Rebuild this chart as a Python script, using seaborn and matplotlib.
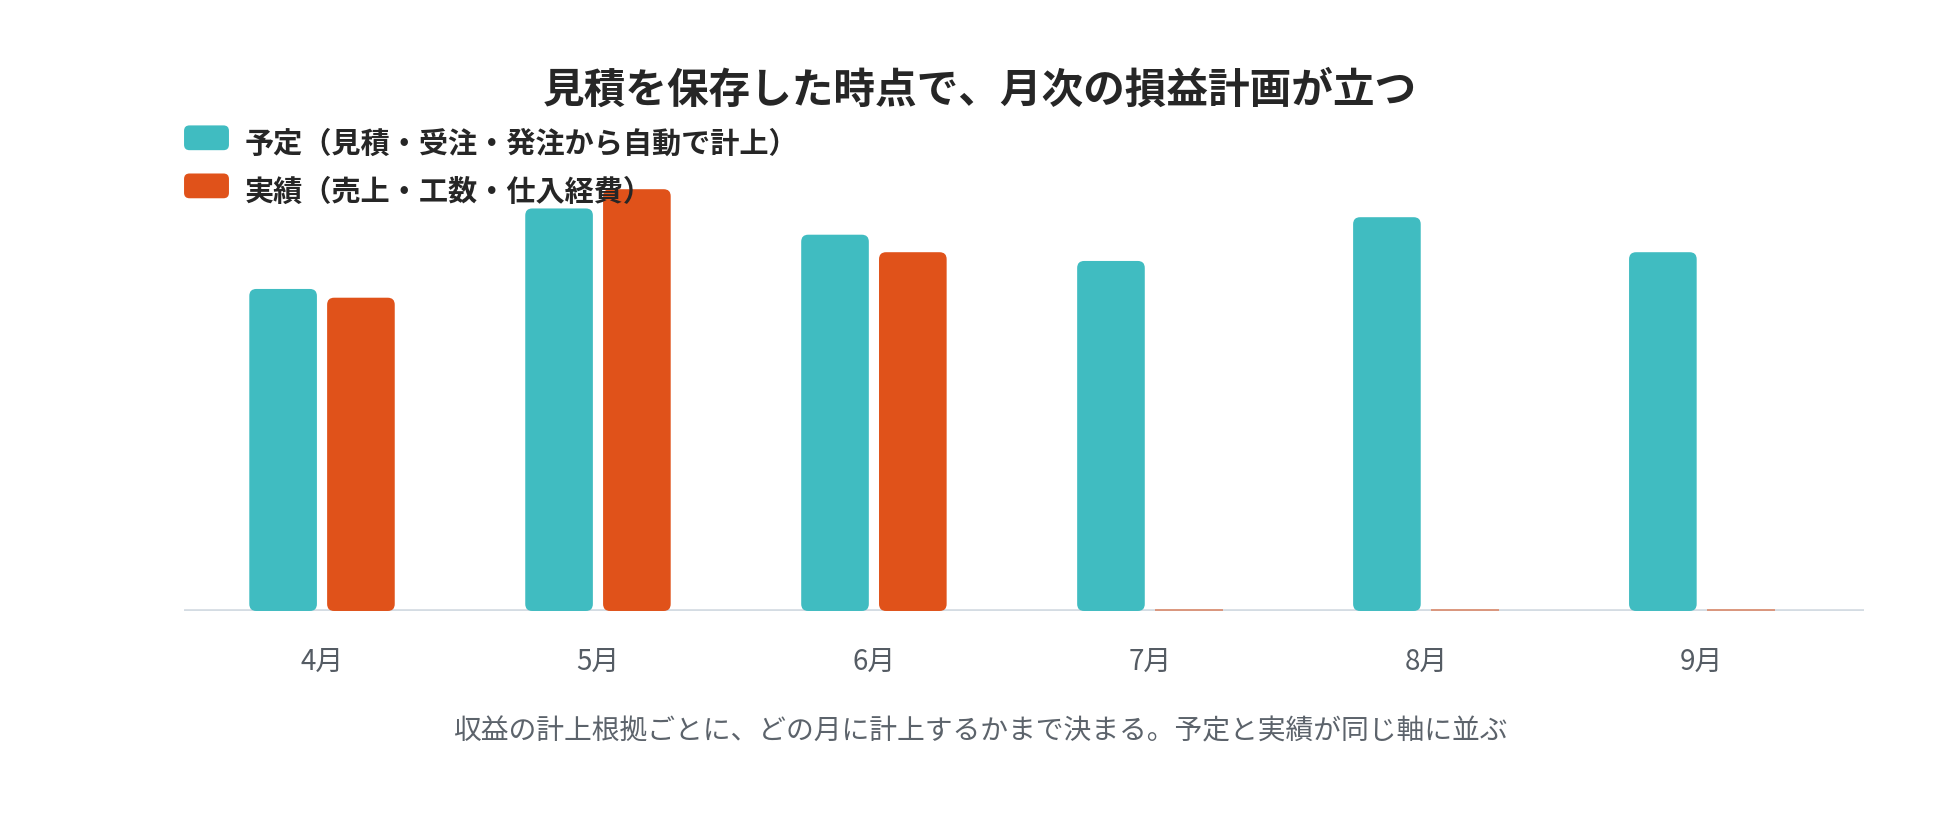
import pandas as pd
import matplotlib
matplotlib.use("Agg")
import matplotlib.pyplot as plt
import seaborn as sns
from matplotlib.patches import FancyBboxPatch
from matplotlib.legend_handler import HandlerPatch

# data (arbitrary units)
months = ["4月", "5月", "6月", "7月", "8月", "9月"]
plan = [920, 1150, 1075, 1000, 1125, 1025]
actual = [895, 1205, 1025, 0, 0, 0]
series = ["予定（見積・受注・発注から自動で計上）", "実績（売上・工数・仕入経費）"]
colors = ["#40BCC1", "#E0521A"]

title = "見積を保存した時点で、月次の損益計画が立つ"
subtitle = "収益の計上根拠ごとに、どの月に計上するかまで決まる。予定と実績が同じ軸に並ぶ"

df = pd.DataFrame({
    "month": months * 2,
    "series": [series[0]] * len(months) + [series[1]] * len(months),
    "value": plan + actual,
})

sns.set_theme(style="white")
plt.rcParams["font.family"] = ["Noto Sans CJK JP", "DejaVu Sans"]

fig = plt.figure(figsize=(19.6, 8.28), dpi=100)
ax = fig.add_axes([0.0939, 0.2609, 0.857, 0.558])

sns.barplot(
    data=df, x="month", y="value", hue="series",
    hue_order=series, palette=colors, order=months,
    width=0.564, gap=0.131, ax=ax, legend=False,
    saturation=1, edgecolor="none",
)

ax.set_xlim(-0.5, 5.587)
ax.set_ylim(0, 1320)
ax.axhline(0, color="#D4DCE3", lw=3.4, zorder=0.5)

# turn the bars into rounded boxes
p0 = ax.transData.transform((0, 0))
p1 = ax.transData.transform((1, 1))
aspect = (p1[0] - p0[0]) / (p1[1] - p0[1])
radius = 7 / (p1[0] - p0[0])

bars = list(ax.patches)
for bar in bars:
    x, y = bar.get_x(), bar.get_y()
    w, h = bar.get_width(), bar.get_height()
    fc = bar.get_facecolor()
    bar.remove()
    if h <= 0:
        # empty months: just a thin line on the baseline
        ax.hlines(3, x, x + w, color=fc, alpha=0.55, lw=1.3, zorder=2)
        continue
    box = FancyBboxPatch(
        (x, y), w, h,
        boxstyle=f"round,pad=0,rounding_size={radius}",
        mutation_aspect=aspect, facecolor=fc, edgecolor="none", zorder=2,
    )
    ax.add_patch(box)

for s in ax.spines.values():
    s.set_visible(False)
ax.set_yticks([])
ax.set_xlabel("")
ax.set_ylabel("")
ax.tick_params(axis="x", length=0, pad=25, labelsize=20, labelcolor="#555C64")


class RoundHandler(HandlerPatch):
    def create_artists(self, legend, orig_handle, xdescent, ydescent,
                       width, height, fontsize, trans):
        p = FancyBboxPatch(
            (-xdescent, -ydescent + 3), width, height,
            boxstyle=f"round,pad=0,rounding_size={height * 0.22}",
            facecolor=orig_handle.get_facecolor(), edgecolor="none",
            transform=trans,
        )
        return [p]


handles = [plt.Rectangle((0, 0), 1, 1, color=c) for c in colors]
leg = ax.legend(
    handles, series, loc="upper left",
    bbox_to_anchor=(0.0939, 1 - 129 / 828), bbox_transform=fig.transFigure,
    frameon=False, borderpad=0, borderaxespad=0,
    handlelength=1.54, handleheight=0.93, handletextpad=0.55,
    labelspacing=0.62, prop={"size": 21, "weight": "bold"},
    handler_map={plt.Rectangle: RoundHandler()},
)
for t in leg.get_texts():
    t.set_color("#262626")

fig.text(0.5, 1 - 91 / 828, title, ha="center", va="center",
         fontsize=30, fontweight="bold", color="#262626")
fig.text(0.5, 1 - 731 / 828, subtitle, ha="center", va="center",
         fontsize=20, color="#5C636B")

fig.savefig("out.png", dpi=100, facecolor="white")
